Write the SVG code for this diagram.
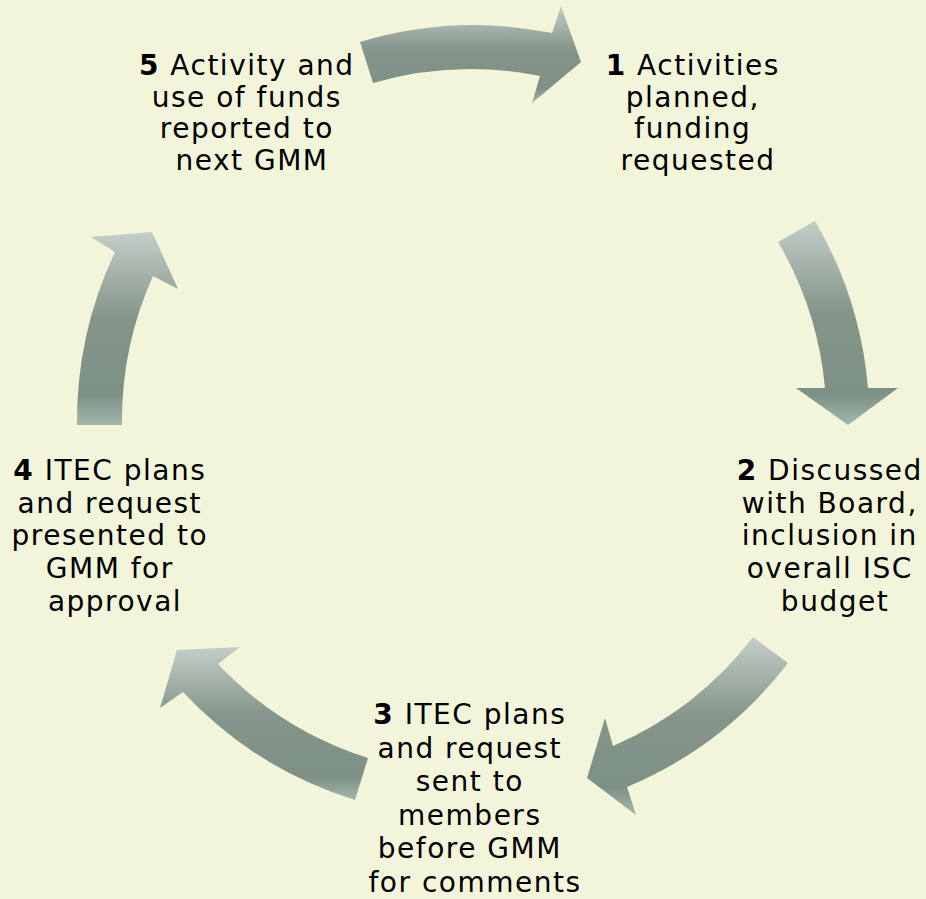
<svg xmlns="http://www.w3.org/2000/svg" width="926" height="899" viewBox="0 0 926 899">
  <defs>
    <linearGradient id="arrowFill" x1="0" y1="0" x2="0" y2="1">
      <stop offset="0" stop-color="#C3CEC8"/>
      <stop offset="0.45" stop-color="#849589"/>
      <stop offset="0.85" stop-color="#7E9186"/>
      <stop offset="1" stop-color="#A2B7AC"/>
    </linearGradient>
  </defs>
  <style>
    .arrow { fill: url(#arrowFill); stroke: none; }
    .lbl { font-family: "DejaVu Sans", "Liberation Sans", sans-serif; font-size: 28px; letter-spacing: 1.5px; fill: #000000; text-anchor: middle; }
    .num { font-weight: bold; }
  </style>
  <rect x="0" y="0" width="926" height="899" fill="#F2F5DA"/>

  <g id="connectors">
    <path id="arrow-5-1" class="arrow" d="M360,42 A397,397 0 0 1 552,33 L561,6 L581,62 L532,103 L540,76 A352,352 0 0 0 373,83 Z"/>
    <path id="arrow-1-2" class="arrow" d="M815,221 A397,397 0 0 1 868,388 L898,388 L848,425 L796,388 L825,388 A352,352 0 0 0 778,242 Z"/>
    <path id="arrow-2-3" class="arrow" d="M788,663 A397,397 0 0 1 627,787 L636,815 L587,778 L605,718 L613,746 A352,352 0 0 0 753,637 Z"/>
    <path id="arrow-3-4" class="arrow" d="M355,800 A397,397 0 0 1 183,692 L160,708 L177,650 L240,647 L218,664 A352,352 0 0 0 368,758 Z"/>
    <path id="arrow-4-5" class="arrow" d="M77,425 A397,397 0 0 1 115,252 L91,237 L152,232 L178,289 L153,276 A352,352 0 0 0 122,425 Z"/>
  </g>

  <g id="node-1">
    <text class="lbl">
      <tspan x="698" y="75"><tspan class="num">1</tspan> Activities</tspan>
      <tspan x="698" y="106.5">planned,</tspan>
      <tspan x="698" y="138">funding</tspan>
      <tspan x="698" y="169.5">requested</tspan>
    </text>
  </g>

  <g id="node-2">
    <text class="lbl">
      <tspan x="835" y="480"><tspan class="num">2</tspan> Discussed</tspan>
      <tspan x="835" y="512.7">with Board,</tspan>
      <tspan x="835" y="545.4">inclusion in</tspan>
      <tspan x="835" y="578.1">overall ISC</tspan>
      <tspan x="835" y="610.8">budget</tspan>
    </text>
  </g>

  <g id="node-3">
    <text class="lbl">
      <tspan x="475" y="724"><tspan class="num">3</tspan> ITEC plans</tspan>
      <tspan x="475" y="757.5">and request</tspan>
      <tspan x="475" y="791">sent to</tspan>
      <tspan x="475" y="824.5">members</tspan>
      <tspan x="475" y="858">before GMM</tspan>
      <tspan x="475" y="891.5">for comments</tspan>
    </text>
  </g>

  <g id="node-4">
    <text class="lbl">
      <tspan x="115" y="480"><tspan class="num">4</tspan> ITEC plans</tspan>
      <tspan x="115" y="512.7">and request</tspan>
      <tspan x="115" y="545.4">presented to</tspan>
      <tspan x="115" y="578.1">GMM for</tspan>
      <tspan x="115" y="610.8">approval</tspan>
    </text>
  </g>

  <g id="node-5">
    <text class="lbl">
      <tspan x="252" y="75"><tspan class="num">5</tspan> Activity and</tspan>
      <tspan x="252" y="106.5">use of funds</tspan>
      <tspan x="252" y="138">reported to</tspan>
      <tspan x="252" y="169.5">next GMM</tspan>
    </text>
  </g>
</svg>
